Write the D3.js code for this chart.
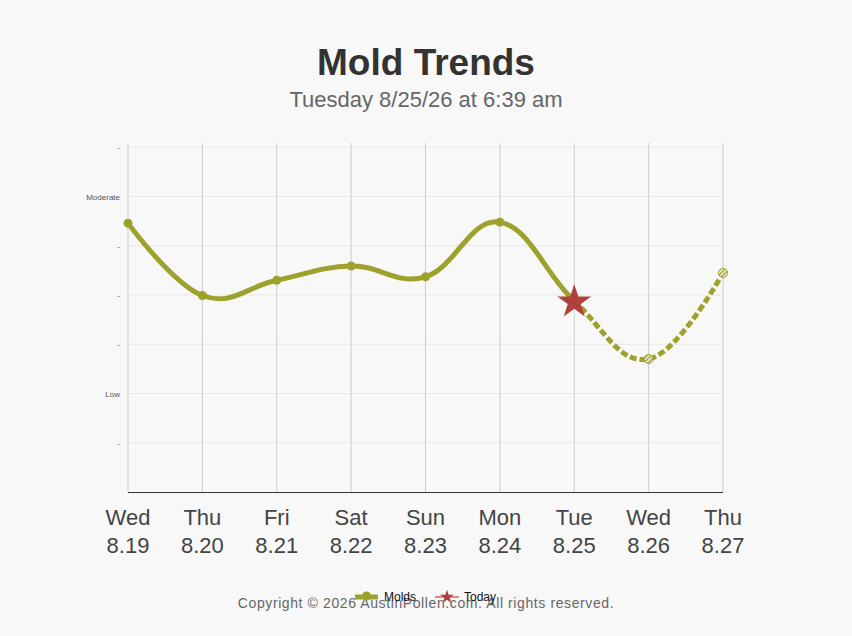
<!DOCTYPE html>
<html>
<head>
<meta charset="utf-8">
<script src="https://cdn.jsdelivr.net/npm/d3@7"></script>
<style>
  body { margin: 0; background: #f8f8f8; }
  svg { display: block; font-family: "Liberation Sans", Arial, sans-serif; }
</style>
</head>
<body>
<div id="chart"></div>
<script>
// chart data
var days = ["Wed", "Thu", "Fri", "Sat", "Sun", "Mon", "Tue", "Wed", "Thu"];
var dates = ["8.19", "8.20", "8.21", "8.22", "8.23", "8.24", "8.25", "8.26", "8.27"];
var moldValues = [5.46, 3.99, 4.30, 4.59, 4.37, 5.48, 3.88, 2.70, 4.45];
var todayIndex = 6;
var yTicks = [1, 2, 3, 4, 5, 6, 7];
var yTickLabels = ["-", "Low", "-", "-", "-", "Moderate", "-"];

var width = 852, height = 636;
var plot = { left: 128, right: 723, top: 143, bottom: 492 };
var olive = "#9ca22b", red = "#b0403b";

var svg = d3.select("#chart").append("svg")
  .attr("width", width).attr("height", height);

svg.append("rect").attr("width", width).attr("height", height).attr("fill", "#f8f8f8");

// hatched fill for forecast markers
var defs = svg.append("defs");
var pat = defs.append("pattern")
  .attr("id", "hatch").attr("patternUnits", "userSpaceOnUse")
  .attr("width", 3).attr("height", 3)
  .attr("patternTransform", "rotate(45)");
pat.append("rect").attr("width", 3).attr("height", 3).attr("fill", "#fff");
pat.append("rect").attr("width", 1.6).attr("height", 3).attr("fill", olive);

var x = d3.scalePoint().domain(d3.range(days.length)).range([plot.left, plot.right]);
var y = d3.scaleLinear().domain([0, 7]).range([plot.bottom, 147.3]);

// titles
svg.append("text").attr("x", width / 2).attr("y", 75)
  .attr("text-anchor", "middle").attr("font-size", 37).attr("font-weight", "bold")
  .attr("fill", "#333").text("Mold Trends");
svg.append("text").attr("x", width / 2).attr("y", 107)
  .attr("text-anchor", "middle").attr("font-size", 22)
  .attr("fill", "#666").text("Tuesday 8/25/26 at 6:39 am");

// horizontal grid
svg.append("g").selectAll("line").data(yTicks).enter().append("line")
  .attr("x1", plot.left).attr("x2", plot.right)
  .attr("y1", function (d) { return y(d); }).attr("y2", function (d) { return y(d); })
  .attr("stroke", "#e8e8e8").attr("stroke-width", 1);

// vertical grid
svg.append("g").selectAll("line").data(d3.range(days.length)).enter().append("line")
  .attr("x1", function (d) { return x(d); }).attr("x2", function (d) { return x(d); })
  .attr("y1", plot.top).attr("y2", plot.bottom)
  .attr("stroke", "#cccccc").attr("stroke-width", 1);

// y labels
svg.append("g").selectAll("text").data(yTicks).enter().append("text")
  .attr("x", 120).attr("y", function (d) { return y(d) + 3; })
  .attr("text-anchor", "end").attr("font-size", 8).attr("fill", "#555")
  .text(function (d, i) { return yTickLabels[i]; });

// x axis line
svg.append("line").attr("x1", plot.left).attr("x2", plot.right)
  .attr("y1", plot.bottom + 0.5).attr("y2", plot.bottom + 0.5)
  .attr("stroke", "#333").attr("stroke-width", 1);

// x labels
var xl = svg.append("g").selectAll("text").data(d3.range(days.length)).enter().append("text")
  .attr("text-anchor", "middle").attr("font-size", 22).attr("fill", "#444");
xl.append("tspan").attr("x", function (d) { return x(d); }).attr("y", 525)
  .text(function (d) { return days[d]; });
xl.append("tspan").attr("x", function (d) { return x(d); }).attr("y", 553)
  .text(function (d) { return dates[d]; });

// the spline, split at today into solid / dashed
var line = d3.line()
  .x(function (d, i) { return x(i); })
  .y(function (d) { return y(d); })
  .curve(d3.curveCardinal.tension(-0.2));

defs.append("clipPath").attr("id", "past").append("rect")
  .attr("x", 0).attr("y", 0).attr("width", x(todayIndex)).attr("height", height);
defs.append("clipPath").attr("id", "future").append("rect")
  .attr("x", x(todayIndex)).attr("y", 0).attr("width", width).attr("height", height);

svg.append("path").datum(moldValues).attr("d", line)
  .attr("clip-path", "url(#past)")
  .attr("fill", "none").attr("stroke", olive).attr("stroke-width", 5);
svg.append("path").datum(moldValues).attr("d", line)
  .attr("clip-path", "url(#future)")
  .attr("fill", "none").attr("stroke", olive).attr("stroke-width", 5)
  .attr("stroke-dasharray", "7,3");

// markers
svg.append("g").selectAll("circle")
  .data(moldValues.map(function (v, i) { return { v: v, i: i }; })
    .filter(function (d) { return d.i !== todayIndex; }))
  .enter().append("circle")
  .attr("cx", function (d) { return x(d.i); })
  .attr("cy", function (d) { return y(d.v); })
  .attr("r", 4.5)
  .attr("fill", function (d) { return d.i > todayIndex ? "url(#hatch)" : olive; })
  .attr("stroke", olive).attr("stroke-width", function (d) { return d.i > todayIndex ? 1 : 0; });

var star = d3.symbol().type(d3.symbolStar);
svg.append("path")
  .attr("d", star.size(360)())
  .attr("transform", "translate(" + x(todayIndex) + "," + (y(moldValues[todayIndex]) + 1) + ")")
  .attr("fill", red);

// footer
svg.append("text").attr("x", width / 2).attr("y", 608)
  .attr("text-anchor", "middle").attr("font-size", 14).attr("fill", "#666")
  .attr("letter-spacing", 0.6)
  .text("Copyright \u00a9 2026 AustinPollen.com.  All rights reserved.");

// legend
var leg = svg.append("g");
leg.append("line").attr("x1", 355).attr("x2", 378).attr("y1", 597).attr("y2", 597)
  .attr("stroke", olive).attr("stroke-width", 5);
leg.append("circle").attr("cx", 366.5).attr("cy", 596).attr("r", 4.5).attr("fill", olive);
leg.append("text").attr("x", 384).attr("y", 601).attr("font-size", 12).attr("fill", "#111").text("Molds");
leg.append("line").attr("x1", 435).attr("x2", 459).attr("y1", 597).attr("y2", 597)
  .attr("stroke", "#d98a86").attr("stroke-width", 2);
leg.append("path").attr("d", star.size(60)())
  .attr("transform", "translate(447,597)").attr("fill", red);
leg.append("text").attr("x", 464).attr("y", 601).attr("font-size", 12).attr("fill", "#111").text("Today");
</script>
</body>
</html>
